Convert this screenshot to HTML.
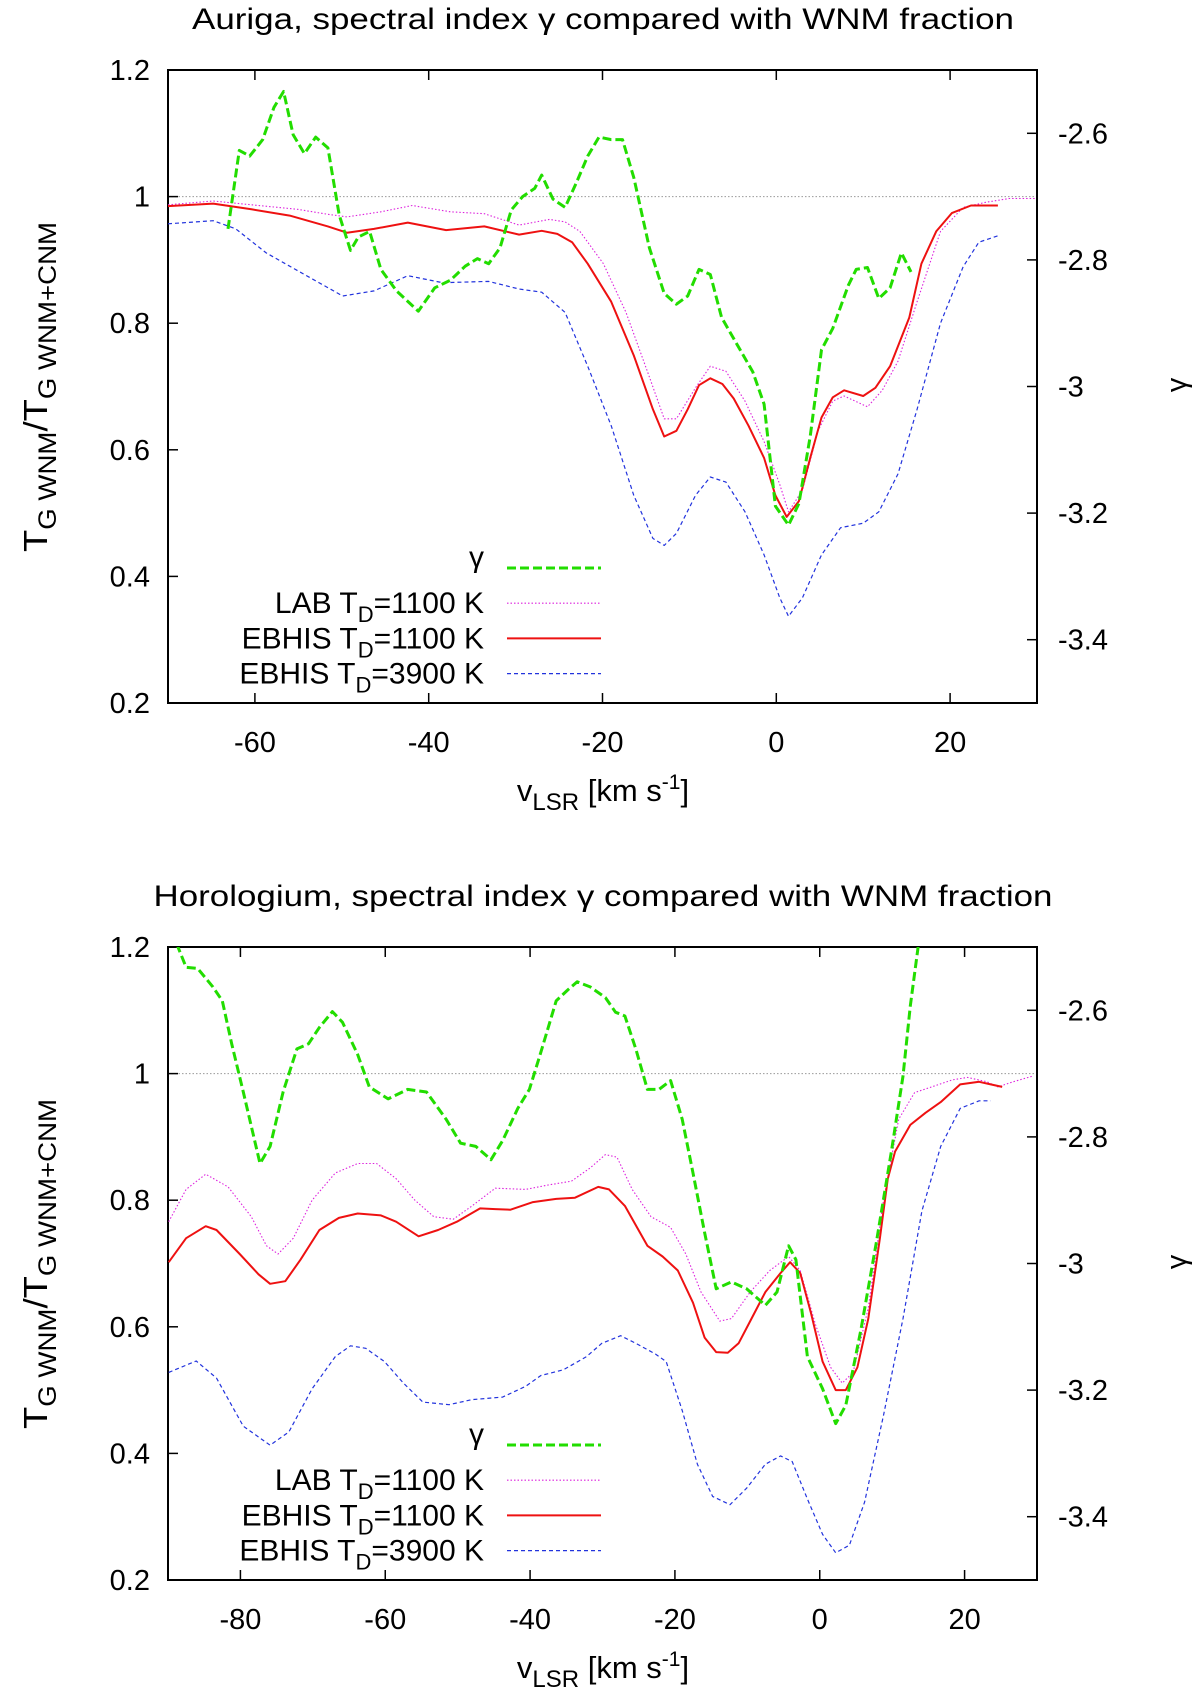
<!DOCTYPE html>
<html><head><meta charset="utf-8"><style>
html,body{margin:0;padding:0;background:#fff}
svg{display:block}
text{font-family:"Liberation Sans",sans-serif;fill:#000}
</style></head><body>
<svg id="chart" width="1200" height="1690" viewBox="0 0 1200 1690" xmlns="http://www.w3.org/2000/svg"></svg>
<script>
// ---- Auriga data ----
const aurGammaX=[-63.1,-61.8,-60.6,-59.1,-57.8,-56.7,-55.6,-54.3,-53.0,-51.6,-50.3,-49.0,-48.1,-46.8,-45.5,-43.7,-41.2,-39.3,-37.5,-35.8,-34.4,-33.1,-31.8,-30.5,-29.2,-27.8,-27.0,-25.7,-24.3,-23.0,-21.7,-20.4,-19.0,-17.7,-16.4,-14.6,-12.9,-11.5,-10.2,-8.9,-7.6,-6.3,-4.5,-2.7,-1.4,-0.1,1.4,2.6,3.9,5.2,6.5,8.3,9.2,10.5,11.8,13.1,14.4,15.5];
const aurGammaY=[-2.751,-2.627,-2.636,-2.610,-2.559,-2.534,-2.602,-2.632,-2.606,-2.623,-2.729,-2.785,-2.764,-2.755,-2.815,-2.849,-2.881,-2.844,-2.832,-2.810,-2.798,-2.806,-2.781,-2.721,-2.700,-2.687,-2.666,-2.704,-2.717,-2.678,-2.636,-2.606,-2.610,-2.610,-2.670,-2.781,-2.853,-2.870,-2.857,-2.815,-2.823,-2.891,-2.934,-2.977,-3.028,-3.189,-3.219,-3.185,-3.079,-2.942,-2.908,-2.840,-2.815,-2.812,-2.861,-2.844,-2.789,-2.819];
const aurRedX=[-70,-64.8,-60.4,-56,-51.6,-49.4,-46.3,-42.4,-38,-33.6,-29.6,-27,-25.2,-23.5,-21.7,-19.0,-16.4,-14.2,-12.9,-11.5,-10.2,-8.9,-7.6,-6.2,-4.9,-3.2,-1.4,-0.1,1.2,2.6,3.9,5.2,6.5,7.8,10.0,11.4,13.1,15.3,16.7,18.4,20.2,22.4,25.5];
const aurRedY=[0.985,0.989,0.980,0.970,0.953,0.943,0.949,0.959,0.947,0.953,0.940,0.946,0.941,0.928,0.894,0.834,0.749,0.664,0.621,0.630,0.664,0.702,0.713,0.704,0.681,0.638,0.587,0.528,0.494,0.519,0.587,0.651,0.683,0.694,0.685,0.698,0.732,0.809,0.894,0.945,0.974,0.986,0.986];
const aurLabX=[-70,-64.8,-60.4,-55.1,-51.6,-49.4,-45.5,-41.9,-37.5,-33.6,-29.6,-26.1,-24.3,-22.6,-19.9,-17.3,-14.6,-12.9,-11.5,-9.3,-7.6,-5.8,-3.6,-1.4,0.4,1.4,3.0,4.8,6.5,7.8,10.5,12.2,14.0,16.2,18.9,21.5,24.1,26.8,29.9];
const aurLabY=[0.987,0.993,0.987,0.980,0.972,0.968,0.976,0.986,0.976,0.973,0.955,0.964,0.960,0.945,0.894,0.817,0.715,0.649,0.649,0.698,0.732,0.724,0.677,0.613,0.545,0.502,0.536,0.630,0.677,0.685,0.668,0.694,0.740,0.834,0.945,0.983,0.991,0.997,0.997];
const aurBlueX=[-70,-64.8,-62.2,-58.7,-54.3,-49.9,-46.3,-42.4,-38.4,-33.1,-29.6,-27.0,-24.3,-21.7,-19.0,-16.4,-14.2,-12.9,-11.5,-9.3,-7.6,-5.8,-3.6,-1.4,0.4,1.4,3.0,5.2,7.4,10.0,11.8,14.0,16.2,18.9,21.5,23.3,25.5];
const aurBlueY=[0.957,0.962,0.949,0.911,0.877,0.843,0.851,0.875,0.864,0.866,0.854,0.849,0.817,0.732,0.638,0.528,0.460,0.449,0.468,0.528,0.557,0.549,0.502,0.434,0.366,0.337,0.366,0.434,0.477,0.484,0.502,0.562,0.664,0.800,0.889,0.928,0.938];
// ---- Horologium data ----
const horGammaX=[-88.8,-87.5,-85.9,-83.8,-82.5,-81.2,-79.6,-77.3,-75.9,-74.1,-72.2,-70.6,-69.1,-67.3,-65.9,-63.8,-62.2,-59.6,-56.9,-54.3,-51.6,-49.6,-47.5,-45.4,-43.8,-41.7,-40.1,-38.5,-36.4,-34.8,-33.5,-31.7,-29.6,-28.2,-26.9,-25.4,-23.8,-22.2,-20.6,-19.0,-17.5,-15.9,-14.3,-12.2,-10.1,-7.5,-5.9,-4.3,-3.3,-1.7,0.4,2.2,3.6,5.7,7.8,9.9,11.5,12.5,13.6];
const horGammaY=[-2.495,-2.532,-2.534,-2.563,-2.585,-2.653,-2.729,-2.842,-2.815,-2.729,-2.661,-2.653,-2.627,-2.602,-2.619,-2.670,-2.721,-2.740,-2.725,-2.729,-2.772,-2.810,-2.815,-2.836,-2.806,-2.755,-2.725,-2.666,-2.585,-2.568,-2.555,-2.563,-2.580,-2.603,-2.609,-2.661,-2.725,-2.725,-2.711,-2.772,-2.857,-2.951,-3.040,-3.029,-3.040,-3.066,-3.045,-2.972,-2.994,-3.147,-3.198,-3.253,-3.224,-3.104,-2.968,-2.823,-2.704,-2.593,-2.499];
const horRedX=[-89.9,-87.5,-84.8,-83.3,-80.1,-77.5,-75.9,-73.8,-71.7,-69.1,-66.4,-63.8,-60.6,-58.5,-55.4,-52.7,-50.1,-46.9,-44.8,-42.7,-39.6,-36.4,-33.8,-30.6,-29.1,-26.9,-23.8,-21.7,-19.6,-17.5,-15.9,-14.3,-12.7,-11.2,-9.6,-7.5,-5.4,-4.1,-2.7,-1.2,0.4,2.2,3.6,5.2,6.7,8.3,9.4,10.4,12.5,14.6,16.7,19.4,22.0,23.6,25.2];
const horRedY=[0.702,0.740,0.759,0.753,0.715,0.683,0.668,0.672,0.706,0.753,0.772,0.779,0.776,0.766,0.743,0.753,0.766,0.787,0.786,0.785,0.797,0.802,0.804,0.821,0.817,0.791,0.728,0.711,0.689,0.638,0.583,0.560,0.559,0.574,0.609,0.655,0.685,0.702,0.685,0.621,0.545,0.500,0.500,0.536,0.613,0.740,0.834,0.877,0.919,0.938,0.955,0.983,0.987,0.983,0.979];
const horLabX=[-89.9,-87.5,-84.8,-81.7,-78.5,-76.4,-74.8,-72.7,-70.1,-66.9,-63.8,-61.2,-58.5,-55.9,-53.3,-50.6,-48.0,-44.8,-40.6,-37.5,-34.3,-31.7,-29.6,-28.0,-25.9,-23.3,-20.6,-18.5,-16.4,-13.8,-12.2,-9.6,-6.9,-4.3,-2.7,-0.6,1.5,3.1,4.6,6.7,8.8,10.9,13.1,15.7,18.3,20.4,23.1,24.6,26.7,29.4];
const horLabY=[0.766,0.817,0.841,0.821,0.774,0.728,0.715,0.740,0.800,0.843,0.858,0.858,0.834,0.800,0.774,0.770,0.791,0.819,0.817,0.824,0.830,0.851,0.872,0.868,0.817,0.774,0.757,0.715,0.655,0.609,0.613,0.655,0.689,0.711,0.689,0.604,0.536,0.511,0.528,0.630,0.800,0.928,0.970,0.980,0.990,0.994,0.987,0.979,0.987,0.996];
const horBlueX=[-89.9,-86.1,-83.3,-79.6,-75.9,-73.3,-70.1,-66.9,-64.8,-62.7,-60.1,-57.5,-54.8,-51.2,-48.0,-43.8,-40.6,-38.5,-35.4,-32.2,-30.1,-27.5,-25.4,-22.7,-21.2,-19.0,-16.9,-14.8,-12.4,-10.1,-7.5,-5.4,-3.8,-1.7,0.4,2.2,4.1,6.2,8.8,11.5,14.1,16.7,19.4,22.0,23.6];
const horBlueY=[0.528,0.546,0.519,0.443,0.413,0.434,0.502,0.553,0.570,0.566,0.545,0.511,0.481,0.477,0.485,0.489,0.506,0.523,0.532,0.553,0.574,0.586,0.574,0.557,0.545,0.468,0.383,0.332,0.319,0.345,0.383,0.396,0.387,0.328,0.272,0.243,0.255,0.323,0.460,0.613,0.783,0.885,0.945,0.957,0.957];
const leftTicks=[0.2,0.4,0.6,0.8,1,1.2];
const rightTicks=[-2.6,-2.8,-3,-3.2,-3.4];
const aurXTicks=[-60,-40,-20,0,20];
const horXTicks=[-80,-60,-40,-20,0,20];

const NS="http://www.w3.org/2000/svg";
const svg=document.getElementById('chart');
function mk(tag,attrs,parent,txt){const e=document.createElementNS(NS,tag);for(const k in attrs)e.setAttribute(k,attrs[k]);if(txt!==undefined)e.textContent=txt;(parent||svg).appendChild(e);return e;}

function panel(p){
  const g=mk('g',{});
  
  
  const L=168,R=1037,T=p.top,B=p.top+633;
  const sx=v=>L+(v-p.xmin)/(p.xmax-p.xmin)*(R-L);
  const sy=v=>B-(v-0.2)/1.0*(B-T);
  const sg=v=>B-(v+3.5)/1.0*(B-T);
  const t=mk('text',{x:603,y:T-41,'font-size':30,'text-anchor':'middle',textLength:p.titleLen,lengthAdjust:'spacingAndGlyphs'},g);
  
  
  t.innerHTML=p.title;
  const ref=mk('line',{x1:L,x2:R,y1:sy(1),y2:sy(1),stroke:'#999','stroke-width':1,'stroke-dasharray':'1.5,2'},g);
  
  
  const ticks=mk('g',{stroke:'#000','stroke-width':1.5},g);
  
  
  leftTicks.forEach(v=>{
    mk('line',{x1:L,x2:L+10,y1:sy(v),y2:sy(v)},ticks);
    const tl=mk('text',{x:150,y:sy(v)+10,'font-size':29,'text-anchor':'end'},g,String(v));
    
    
  });
  rightTicks.forEach(v=>{
    mk('line',{x1:R-10,x2:R,y1:sg(v),y2:sg(v)},ticks);
    const tl=mk('text',{x:1058,y:sg(v)+10,'font-size':29},g,String(v));
    
    
  });
  p.xticks.forEach(v=>{
    mk('line',{x1:sx(v),x2:sx(v),y1:B,y2:B-10},ticks);
    mk('line',{x1:sx(v),x2:sx(v),y1:T,y2:T+10},ticks);
    const tl=mk('text',{x:sx(v),y:B+49,'font-size':29,'text-anchor':'middle'},g,String(v));
    
    
  });
  const frame=mk('rect',{x:L,y:T,width:R-L,height:B-T,fill:'none',stroke:'#000','stroke-width':2},g);
  
  
  const cp=mk('clipPath',{id:'clip-'+p.id},g);
  mk('rect',{x:L,y:T,width:R-L,height:B-T},cp);
  function series(xs,ys,fy,style,name){
    let d='';xs.forEach((x,i)=>{d+=(i?'L':'M')+sx(x).toFixed(1)+','+fy(ys[i]).toFixed(1);});
    const s=mk('path',Object.assign({d:d,fill:'none','clip-path':'url(#clip-'+p.id+')','stroke-linejoin':'round'},style),g);
    
    
  }
  const stB={stroke:'#2233dd','stroke-width':1.2,'stroke-dasharray':'4,3'};
  const stM={stroke:'#dd22dd','stroke-width':1.1,'stroke-dasharray':'1.5,2'};
  const stR={stroke:'#ee1111','stroke-width':2};
  const stG={stroke:'#22dd00','stroke-width':3,'stroke-dasharray':'9,4'};
  series(p.bx,p.by,sy,stB,'ebhis-3900k-line');
  series(p.mx,p.my,sy,stM,'lab-1100k-line');
  series(p.rx,p.ry,sy,stR,'ebhis-1100k-line');
  series(p.gx,p.gy,sg,stG,'gamma-line');
  const yt=mk('text',{transform:'translate(47,'+(T+317)+') rotate(-90)','font-size':33,'text-anchor':'middle',textLength:330,lengthAdjust:'spacingAndGlyphs'},g);
  
  
  yt.innerHTML='T<tspan font-size="25" dy="9">G WNM</tspan><tspan dy="-9">/T</tspan><tspan font-size="25" dy="9">G WNM+CNM</tspan>';
  const y2=mk('text',{transform:'translate(1186,'+(T+315)+') rotate(-90)','font-size':29,'text-anchor':'middle'},g,'γ');
  
  
  const xt=mk('text',{x:603,y:B+98,'font-size':31,'text-anchor':'middle'},g);
  
  
  xt.innerHTML='v<tspan font-size="24" dy="9">LSR</tspan><tspan dy="-9"> [km s</tspan><tspan font-size="21" dy="-12">-1</tspan><tspan dy="12">]</tspan>';
  const leg=mk('g',{},g);
  
  
  const ents=[['γ',stG,0],['LAB T<tspan font-size="22" dy="9">D</tspan><tspan dy="-9">=1100 K</tspan>',stM,1],['EBHIS T<tspan font-size="22" dy="9">D</tspan><tspan dy="-9">=1100 K</tspan>',stR,2],['EBHIS T<tspan font-size="22" dy="9">D</tspan><tspan dy="-9">=3900 K</tspan>',stB,3]];
  ents.forEach(e=>{
    const cy=T+498+e[2]*35.2;
    const le=mk('g',{},leg);
    
    
    const tx=mk('text',{x:484,y:cy+(e[2]?10:-1),'font-size':30,'text-anchor':'end'},le);
    tx.innerHTML=e[0];
    mk('line',Object.assign({x1:507,x2:601,y1:cy,y2:cy},e[1]),le);
  });
}
panel({id:'auriga',top:70,xmin:-70,xmax:30,xticks:aurXTicks,titleLen:822,
  title:'Auriga, spectral index γ compared with WNM fraction',
  gx:aurGammaX,gy:aurGammaY,rx:aurRedX,ry:aurRedY,mx:aurLabX,my:aurLabY,bx:aurBlueX,by:aurBlueY});
panel({id:'horologium',top:947,xmin:-90,xmax:30,xticks:horXTicks,titleLen:899,
  title:'Horologium, spectral index γ compared with WNM fraction',
  gx:horGammaX,gy:horGammaY,rx:horRedX,ry:horRedY,mx:horLabX,my:horLabY,bx:horBlueX,by:horBlueY});
</script>
</body></html>
